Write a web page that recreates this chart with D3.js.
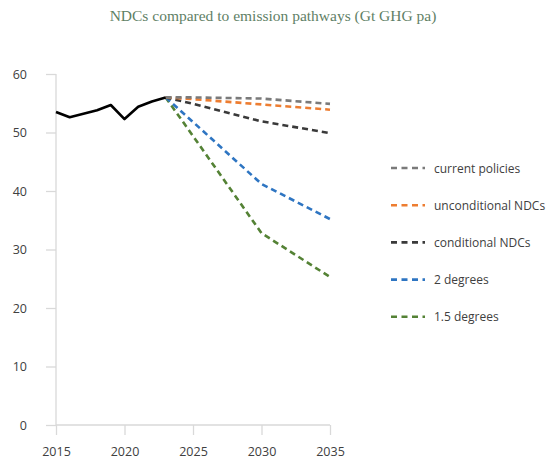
<!DOCTYPE html>
<html><head><meta charset="utf-8">
<script src="https://cdn.jsdelivr.net/npm/d3@7"></script>
<style>body{margin:0;background:#fff}svg{display:block}</style>
</head><body><svg id="c" width="547" height="461"></svg>
<script>
const histYears = [2015,2016,2017,2018,2019,2020,2021,2022,2023];
const histValues = [53.5,52.6,53.2,53.8,54.7,52.3,54.4,55.3,56.0];
const projYears = [2023,2025,2030,2035];
const seriesNames = ["current policies","unconditional NDCs","conditional NDCs","2 degrees","1.5 degrees"];
const currentPolicies = [56.0,56.0,55.8,54.9];
const unconditionalNDCs = [56.0,55.7,54.8,53.9];
const conditionalNDCs = [56.0,54.9,51.9,49.9];
const twoDegrees = [56.0,51.8,41.2,35.2];
const onePointFive = [56.0,49.4,32.8,25.3];
const seriesColors = ["#7a7a7a","#ed7d31","#3a3a3a","#2e75c2","#548235"];
const xTicks = [2015,2020,2025,2030,2035];
const yTicks = [0,10,20,30,40,50,60];
const title = "NDCs compared to emission pathways (Gt GHG pa)";

const svg = d3.select("#c");
const x = d3.scaleLinear().domain([2015,2035]).range([56,330]);
const y = d3.scaleLinear().domain([0,60]).range([425,74]);
const axisColor = "#d9d9d9";
const labelFont = "'Open Sans', sans-serif";

svg.append("text").attr("x",273).attr("y",21).attr("text-anchor","middle")
  .attr("font-family","'Liberation Serif', serif").attr("font-size",15.5)
  .attr("fill","#5f7f66").text(title);

// y axis
const ya = svg.append("g").attr("transform","translate(56,0)")
  .call(d3.axisLeft(y).tickValues(yTicks).tickSize(10).tickPadding(19));
ya.select(".domain").attr("stroke",axisColor).attr("stroke-width",1.3).attr("d","M0,74V425");
ya.selectAll(".tick line").attr("stroke",axisColor).attr("stroke-width",1.3);
ya.selectAll(".tick text").attr("font-family",labelFont).attr("font-size",12.5).attr("fill","#404040");

// x axis
const xa = svg.append("g").attr("transform","translate(0,425)")
  .call(d3.axisBottom(x).tickValues(xTicks).tickFormat(d3.format("d")).tickSize(10).tickPadding(12));
xa.select(".domain").attr("stroke",axisColor).attr("stroke-width",1.3).attr("d","M56,0H330");
xa.selectAll(".tick line").attr("stroke",axisColor).attr("stroke-width",1.3);
xa.selectAll(".tick text").attr("font-family",labelFont).attr("font-size",12.5).attr("fill","#404040");

const lineLin = d3.line().x(d=>x(d[0])).y(d=>y(d[1]));

const proj = [currentPolicies,unconditionalNDCs,conditionalNDCs,twoDegrees,onePointFive];
[4,3,2,1,0].forEach(i=>{
  svg.append("path").datum(projYears.map((yr,j)=>[yr,proj[i][j]]))
    .attr("d",lineLin).attr("fill","none").attr("stroke",seriesColors[i])
    .attr("stroke-width",2.6).attr("stroke-dasharray","6,4").attr("stroke-linejoin","round");
});

svg.append("path").datum(histYears.map((yr,j)=>[yr,histValues[j]]))
  .attr("d",lineLin).attr("fill","none").attr("stroke","#000")
  .attr("stroke-width",2.6).attr("stroke-linejoin","round");

// legend
const lg = svg.append("g");
seriesNames.forEach((n,i)=>{
  const yy = 168 + i*37.2;
  lg.append("line").attr("x1",391).attr("x2",425).attr("y1",yy).attr("y2",yy)
    .attr("stroke",seriesColors[i]).attr("stroke-width",2.6).attr("stroke-dasharray","6,4.5");
  lg.append("text").attr("x",434).attr("y",yy+4.5).attr("font-family",labelFont)
    .attr("font-size",12).attr("fill","#404040").text(n);
});
</script></body></html>
